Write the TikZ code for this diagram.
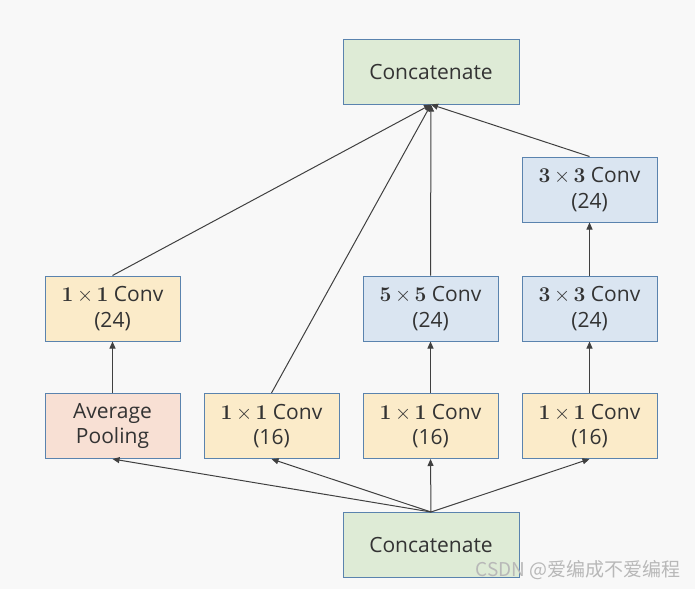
\documentclass[tikz,border=0pt]{standalone}
\usepackage[no-math]{fontspec}
\setmainfont{Open Sans}
\newfontfamily\cjk{Noto Sans CJK SC}
\newfontfamily\lmrfam{Latin Modern Roman}
\newcommand\bdig[1]{{\lmrfam\bfseries #1}}
\newcommand\kxk[1]{\bdig{#1}\,$\times$\,\bdig{#1}}
\usetikzlibrary{arrows.meta}
\definecolor{bgc}{HTML}{F8F8F8}
\definecolor{bordc}{HTML}{5A83AE}
\definecolor{gfill}{HTML}{DEEBD6}
\definecolor{yfill}{HTML}{FBEBC9}
\definecolor{bfill}{HTML}{DAE5F1}
\definecolor{pfill}{HTML}{F8E0D4}
\definecolor{arrc}{HTML}{404040}
\definecolor{txtc}{HTML}{333333}
\tikzset{
  box/.style={draw=bordc, line width=1pt, minimum width=135pt, minimum height=65pt, inner sep=0pt, align=center, font=\fontsize{21}{25.5}\selectfont, text=txtc},
  catbox/.style={box, fill=gfill, minimum width=176pt},
  ybox/.style={box, fill=yfill},
  bbox/.style={box, fill=bfill},
  pbox/.style={box, fill=pfill},
  arr/.style={draw=arrc, line width=1pt, -{Triangle[length=7pt,width=6pt]}},
}
\begin{document}
\begin{tikzpicture}[x=1pt,y=-1pt]
\fill[bgc] (0,0) rectangle (695,589);
\useasboundingbox (0,0) rectangle (695,589);
\node[catbox] (top) at (431,71.5) {Concatenate};
\node[catbox] (bot) at (431,545) {Concatenate};
\node[ybox] (c1) at (112.5,308.5) {\kxk{1} Conv\\(24)};
\node[bbox] (c5) at (430.5,308.5) {\kxk{5} Conv\\(24)};
\node[bbox] (c3a) at (589.5,308.5) {\kxk{3} Conv\\(24)};
\node[bbox] (c3b) at (589.5,189.5) {\kxk{3} Conv\\(24)};
\node[pbox] (ap) at (112.5,426) {Average\\Pooling};
\node[ybox] (b2) at (271.5,426) {\kxk{1} Conv\\(16)};
\node[ybox] (b3) at (430.5,426) {\kxk{1} Conv\\(16)};
\node[ybox] (b4) at (589.5,426) {\kxk{1} Conv\\(16)};
% bottom fan-out
\draw[arr] (bot.north) -- (ap.south);
\draw[arr] (bot.north) -- (b2.south);
\draw[arr] (bot.north) -- (b3.south);
\draw[arr] (bot.north) -- (b4.south);
% columns
\draw[arr] (ap.north) -- (c1.south);
\draw[arr] (b3.north) -- (c5.south);
\draw[arr] (b4.north) -- (c3a.south);
\draw[arr] (c3a.north) -- (c3b.south);
% to top
\draw[arr] (c1.north) -- (top.south);
\draw[arr] (b2.north) -- (top.south);
\draw[arr] (c5.north) -- (top.south);
\draw[arr] (c3b.north) -- (top.south);
\node[anchor=east, text=black!28, font=\cjk\fontsize{19}{22}\selectfont, inner sep=0pt] (wm) at (681,570) {CSDN @爱编成不爱编程};
\end{tikzpicture}
\end{document}
